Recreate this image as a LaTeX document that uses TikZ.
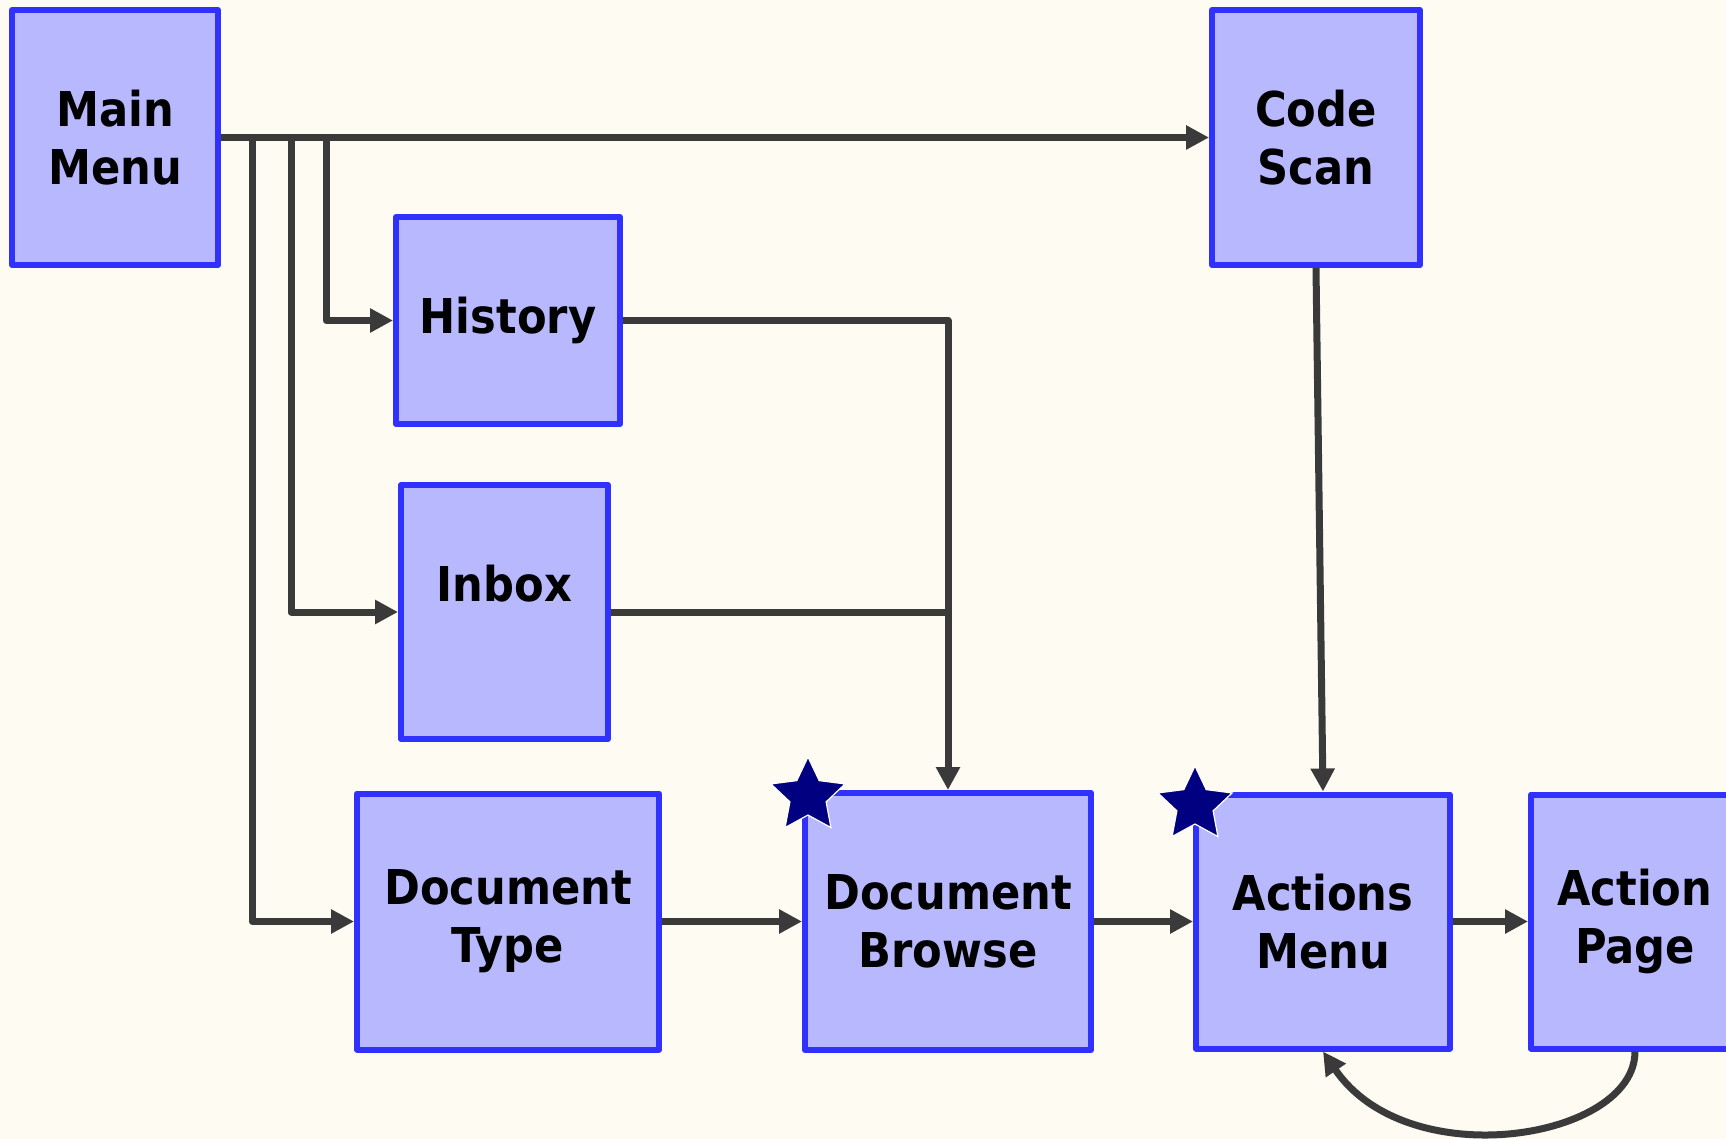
\documentclass[tikz,border=0pt]{standalone}
\usepackage{fontspec}
\newfontfamily\lblfont{DejaVu Sans Condensed}
\usetikzlibrary{arrows.meta,shapes.geometric,calc}
\definecolor{bgc}{HTML}{FEFBF3}
\definecolor{boxfill}{HTML}{B8B8FF}
\definecolor{boxline}{HTML}{3030FF}
\definecolor{conncol}{HTML}{3A3A3A}
\definecolor{starc}{HTML}{000080}
\begin{document}
\begin{tikzpicture}[x=0.5pt,y=-0.5pt,
  box/.style={draw=boxline, fill=boxfill, line width=3pt, line join=round, align=center,
    font=\lblfont\bfseries\fontsize{24}{29}\selectfont, inner sep=0pt},
  link/.style={draw=conncol, line width=3.5pt, line join=round},
  arr/.style={link, -{Triangle[length=11.5pt,width=11.5pt]}},
  markstar/.style={star, star points=5, star point ratio=2.05, minimum size=39pt,
    inner sep=0pt, fill=starc, draw=white, line width=0.6pt}]
\useasboundingbox (0,0) rectangle (1726,1139);
\clip (0,0) rectangle (1726,1139);
\fill[bgc] (0,0) rectangle (1726,1139);

\coordinate (b1) at (252,137.5);
\coordinate (b2) at (291,137.5);
\coordinate (b3) at (326,137.5);

\node[box, minimum width=103pt, minimum height=127.5pt] (mm) at (115,137.5) {Main\\Menu};
\node[box, minimum width=104pt, minimum height=127.5pt] (cs) at (1316,137.5) {Code\\Scan};
\node[box, minimum width=112pt, minimum height=103.5pt] (hist) at (508,320.5) {History};
\node[box, minimum width=103.5pt, minimum height=127pt, text height=18pt, text depth=29pt] (inbox) at (504.5,612) {Inbox};
\node[box, minimum width=151pt, minimum height=128pt] (dt) at (508,921.5) {Document\\Type};
\node[box, minimum width=143pt, minimum height=128.5pt] (db) at (948,921.5) {Document\\Browse};
\node[box, minimum width=127pt, minimum height=127pt] (am) at (1323,921.5) {Actions\\Menu};
\node[box, minimum width=104pt, minimum height=127pt] (ap) at (1635,921.5) {Action\\Page};

\draw[arr] (mm.east) -- (cs.west);
\draw[arr] (b1) |- (dt.west);
\draw[arr] (b2) |- (inbox.west);
\draw[arr] (b3) |- (hist.west);
\draw[arr] (hist.east) -| (db.north);
\draw[link] (inbox.east) -- (inbox.east -| db.north);
\draw[arr] (cs.south) -- (am.north);
\draw[arr] (dt.east) -- (db.west);
\draw[arr] (db.east) -- (am.west);
\draw[arr] (am.east) -- (ap.west);
\draw[arr] (ap.south) .. controls +(0,88) and +(85,125) .. (am.south);

\node[markstar] (s1) at (808,796) {};
\node[markstar] (s2) at (1195,805) {};
\end{tikzpicture}
\end{document}
